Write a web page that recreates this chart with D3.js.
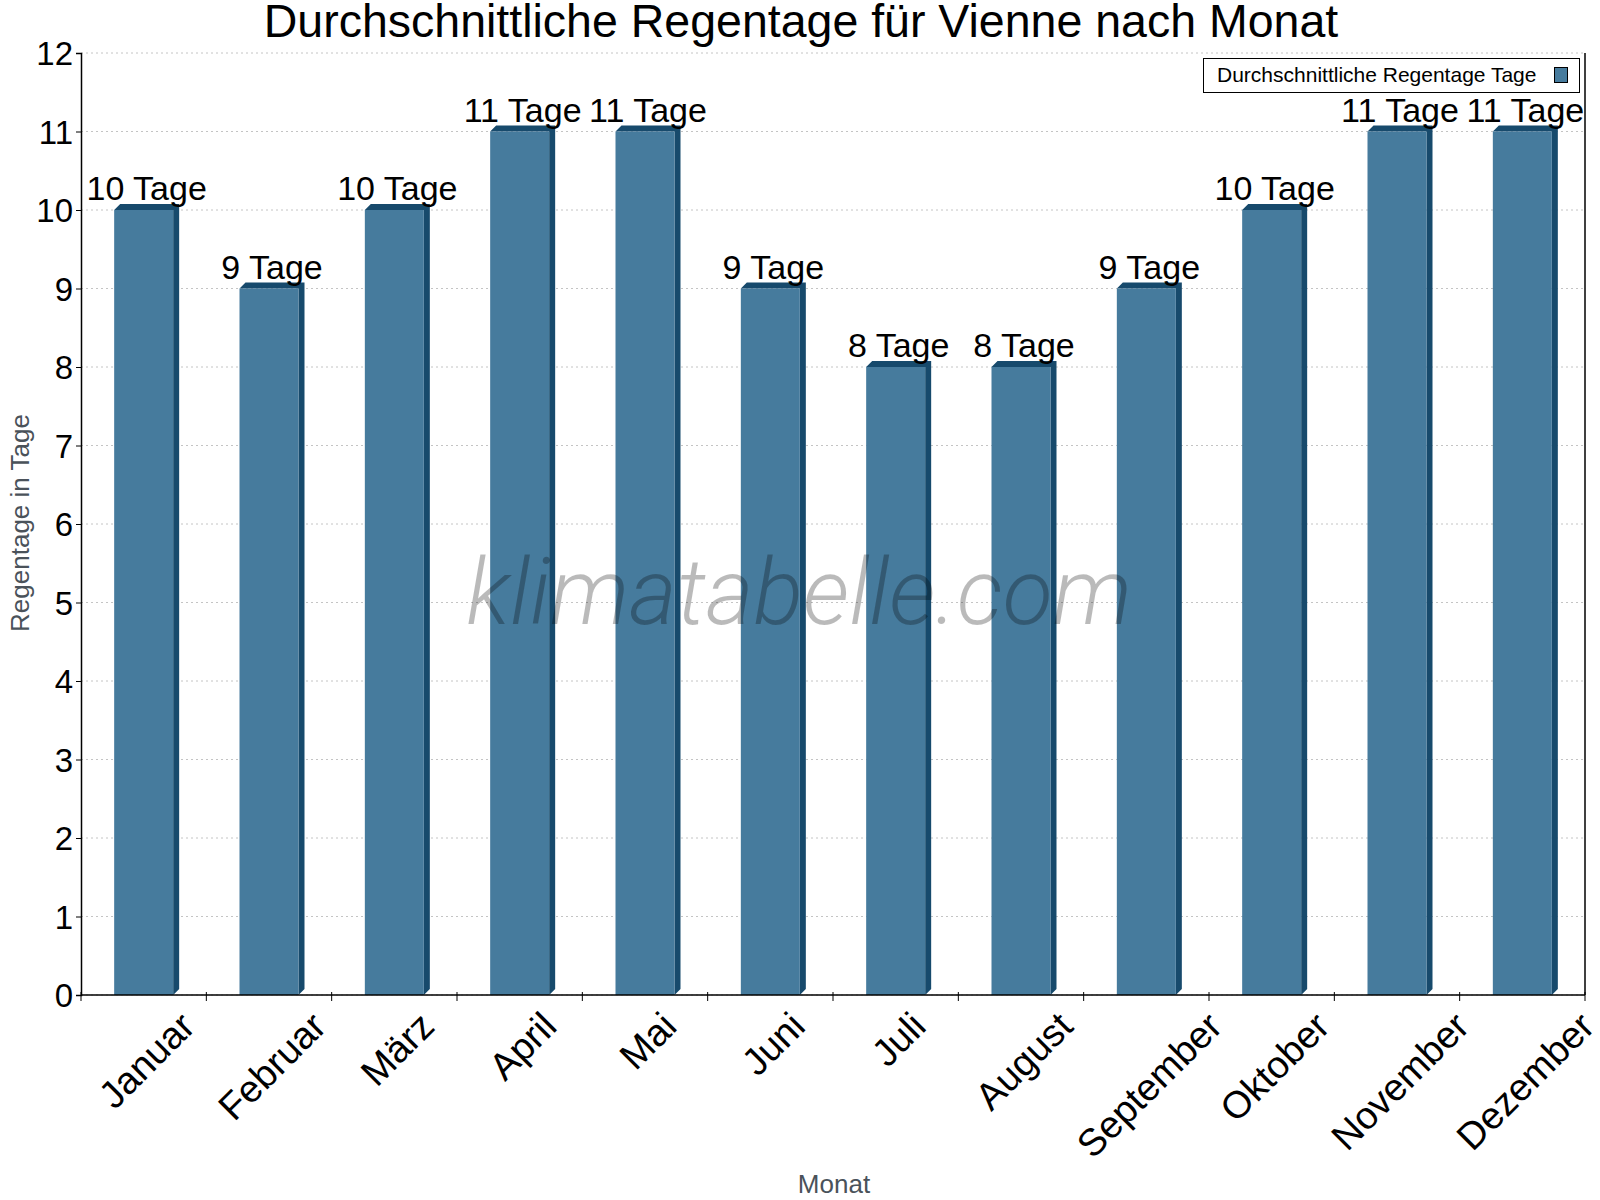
<!DOCTYPE html>
<html>
<head>
<meta charset="utf-8">
<script src="https://cdn.jsdelivr.net/npm/d3@7/dist/d3.min.js"></script>
<style>
  body { margin: 0; background: #fff; }
  text { font-family: "Liberation Sans", Arial, sans-serif; }
</style>
</head>
<body>
<div id="chart"></div>
<script>

var months = ["Januar", "Februar", "März", "April", "Mai", "Juni", "Juli", "August", "September", "Oktober", "November", "Dezember"];
var rainDays = [10, 9, 10, 11, 11, 9, 8, 8, 9, 10, 11, 11];
var yTicks = [0, 1, 2, 3, 4, 5, 6, 7, 8, 9, 10, 11, 12];
var seriesName = "Durchschnittliche Regentage Tage";

var width = 1600, height = 1200;
var plotLeft = 81, plotRight = 1585, plotTop = 53, plotBottom = 995;
var depth = 6;
var front = "#467b9d", dark = "#174a6c";

var svg = d3.select("#chart").append("svg")
    .attr("width", width)
    .attr("height", height);

var x = d3.scaleBand()
    .domain(months)
    .range([plotLeft, plotRight]);

var y = d3.scaleLinear()
    .domain([0, 12])
    .range([plotBottom, plotTop]);

var barW = 59;

// grid
svg.append("g").selectAll("line")
    .data(yTicks)
    .enter().append("line")
    .attr("x1", plotLeft).attr("x2", plotRight)
    .attr("y1", function (d) { return y(d); })
    .attr("y2", function (d) { return y(d); })
    .attr("stroke", "#c4c4c4")
    .attr("stroke-dasharray", "2,3");

// bars
var bars = svg.append("g").selectAll("g")
    .data(rainDays)
    .enter().append("g");

function bx(i) { return x(months[i]) + x.bandwidth() / 2 - barW / 2; }

bars.append("polygon")
    .attr("fill", dark)
    .attr("points", function (d, i) {
        var x0 = bx(i), x1 = x0 + barW, yt = y(d);
        return [[x0, yt], [x0 + depth, yt - depth], [x1 + depth, yt - depth], [x1 + depth, plotBottom - depth], [x1, plotBottom], [x1, yt]].join(" ");
    });

bars.append("rect")
    .attr("fill", front)
    .attr("x", function (d, i) { return bx(i); })
    .attr("y", function (d) { return y(d); })
    .attr("width", barW)
    .attr("height", function (d) { return plotBottom - y(d); });

// watermark
svg.append("text")
    .attr("x", 799)
    .attr("y", 624)
    .attr("text-anchor", "middle")
    .style("font-family", "Roboto, sans-serif")
    .style("font-weight", 300)
    .style("font-style", "italic")
    .style("font-size", "92px")
    .attr("fill", "rgba(0,0,0,0.27)")
    .text("klimatabelle.com");

// value labels
svg.append("g").selectAll("text")
    .data(rainDays)
    .enter().append("text")
    .attr("x", function (d, i) { return x(months[i]) + x.bandwidth() / 2 + 3; })
    .attr("y", function (d) { return y(d) - 10; })
    .attr("text-anchor", "middle")
    .style("font-size", "34px")
    .attr("fill", "#000")
    .text(function (d) { return d + " Tage"; });

// axes
var yAxis = svg.append("g")
    .attr("transform", "translate(" + plotLeft + ",0)")
    .call(d3.axisLeft(y).tickValues(yTicks).tickSize(5).tickPadding(3).tickFormat(d3.format("d")));
yAxis.select(".domain").attr("stroke", "#000").attr("stroke-width", 1.5);
yAxis.selectAll("text").style("font-size", "33px").attr("fill", "#000").attr("dy", "0.36em");

svg.append("line")
    .attr("x1", plotRight).attr("x2", plotRight)
    .attr("y1", plotTop).attr("y2", plotBottom)
    .attr("stroke", "#000").attr("stroke-width", 1.5);

svg.append("line")
    .attr("x1", plotLeft).attr("x2", plotRight)
    .attr("y1", plotBottom).attr("y2", plotBottom)
    .attr("stroke", "#000").attr("stroke-width", 1.5);

var bounds = months.map(function (m) { return x(m); }).concat([plotRight]);
svg.append("g").selectAll("line")
    .data(bounds)
    .enter().append("line")
    .attr("x1", function (d) { return d; })
    .attr("x2", function (d) { return d; })
    .attr("y1", plotBottom - 3).attr("y2", plotBottom + 6)
    .attr("stroke", "#000");

// rotated month labels, bbox top aligned, centred on band
var fs = 38;
svg.append("g").selectAll("text")
    .data(months)
    .enter().append("text")
    .style("font-size", fs + "px")
    .attr("fill", "#000")
    .attr("text-anchor", "middle")
    .attr("dominant-baseline", "central")
    .text(function (d) { return d; })
    .each(function (d) {
        var L = this.getComputedTextLength();
        var cx = x(d) + x.bandwidth() / 2 + 3;
        var cy = 1008 + 0.7071 * (L / 2 + fs * 0.42);
        d3.select(this)
            .attr("x", cx).attr("y", cy)
            .attr("transform", "rotate(-45," + cx + "," + cy + ")");
    });

// axis titles
svg.append("text")
    .attr("x", 834).attr("y", 1193)
    .attr("text-anchor", "middle")
    .style("font-size", "26px")
    .attr("fill", "#4a525a")
    .text("Monat");

svg.append("text")
    .attr("transform", "translate(29,523) rotate(-90)")
    .attr("text-anchor", "middle")
    .style("font-size", "26px")
    .attr("fill", "#4a525a")
    .text("Regentage in Tage");

// title
svg.append("text")
    .attr("x", 801).attr("y", 37)
    .attr("text-anchor", "middle")
    .style("font-size", "46.5px")
    .attr("fill", "#000")
    .text("Durchschnittliche Regentage für Vienne nach Monat");

// legend
var lg = svg.append("g");
lg.append("rect")
    .attr("x", 1203.5).attr("y", 58.5)
    .attr("width", 376).attr("height", 34)
    .attr("fill", "#fff").attr("stroke", "#000");
lg.append("text")
    .attr("x", 1217).attr("y", 82)
    .style("font-size", "21px")
    .attr("fill", "#000")
    .text(seriesName);
lg.append("rect")
    .attr("x", 1554.5).attr("y", 67.5)
    .attr("width", 13).attr("height", 15)
    .attr("fill", front).attr("stroke", "#000");

</script>
</body>
</html>
